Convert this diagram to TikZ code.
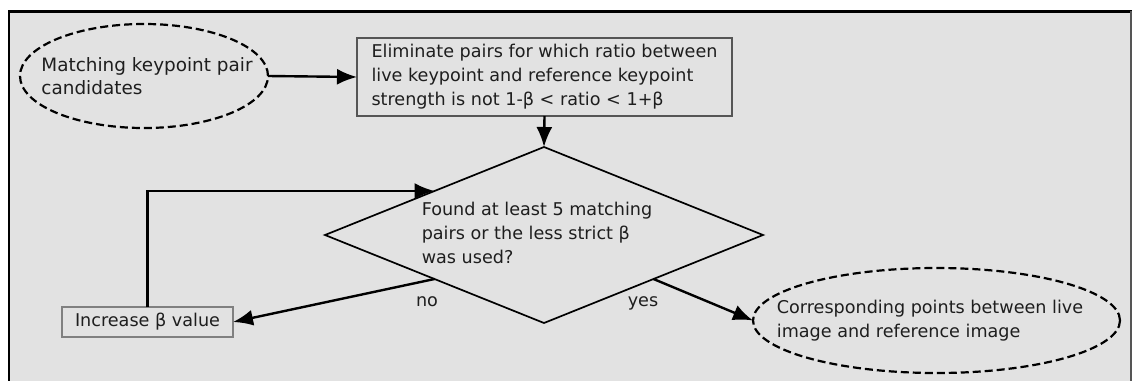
\documentclass[tikz,border=0pt]{standalone}
\usepackage{fontspec}
\setmainfont{DejaVu Sans}
\usetikzlibrary{shapes.geometric,arrows.meta}
\definecolor{panel}{HTML}{E2E2E2}
\definecolor{ink}{HTML}{1E1E1E}
\definecolor{rim}{HTML}{555555}
\begin{document}
\begin{tikzpicture}[x=1pt,y=-1pt,
  every node/.style={font=\fontsize{17.6}{24}\selectfont, text=ink},
  flow/.style={draw=black, line width=2.4pt, -{Latex[length=20pt,width=16pt]}},
  dashedoval/.style={ellipse, draw=black, dash pattern=on 8pt off 4pt,
    line width=2.2pt, inner sep=0pt, outer sep=0pt},
  stepbox/.style={rectangle, draw=rim, line width=1.6pt, align=left,
    inner sep=0pt, outer sep=0pt},
  smallbox/.style={rectangle, draw=black!50, line width=1.2pt, align=left,
    inner sep=0pt, outer sep=0pt},
  decision/.style={diamond, draw=black, line width=1.7pt, inner sep=0pt,
    outer sep=0pt},
  caption/.style={align=left, inner sep=0pt},
  tag/.style={inner sep=0pt}
]
\useasboundingbox (0,0) rectangle (1134,381);
% background panel with its frame
\fill[white] (0,0) rectangle (1134,381);
\fill[panel] (8,10) rectangle (1132,381);
\draw[black, line width=3pt] (8,11) -- (1132,11);
\draw[black, line width=2.5pt] (9,10) -- (9,381);
\draw[rim, line width=2pt] (1131,11) -- (1131,381);

% nodes
\node[dashedoval, minimum width=248pt, minimum height=104pt] (cand) at (144,76) {};
\node[caption, font=\fontsize{18.4}{23}\selectfont] (candtext) at (147,76.5)
  {Matching keypoint pair\\candidates};
\node[stepbox, minimum width=375pt, minimum height=78pt] (elim) at (544.5,77)
  {Eliminate pairs for which ratio between\\live keypoint and reference keypoint\\strength is not 1-β < ratio < 1+β};
\node[decision, minimum width=438pt, minimum height=176pt] (test) at (544,235) {};
\node[caption] (testtext) at (537,233)
  {Found at least 5 matching\\pairs or the less strict β\\was used?};
\node[smallbox, minimum width=171pt, minimum height=30pt] (inc) at (147.5,322)
  {Increase β value};
\node[dashedoval, minimum width=367pt, minimum height=105pt] (result) at (936.5,320.5) {};
\node[caption] (resulttext) at (930,321)
  {Corresponding points between live\\image and reference image};

% connectors
\draw[flow] (cand.east) -- (elim.west);
\draw[flow] (elim.south) -- (test.north);
\draw[flow] (test.south west) -- (inc.east);
\draw[flow] (test.south east) -- (result.west);
\draw[flow] (inc.north) |- (test.north west);

% branch labels
\node[tag] (no) at (427,302) {no};
\node[tag] (yes) at (643,303) {yes};
\end{tikzpicture}
\end{document}
